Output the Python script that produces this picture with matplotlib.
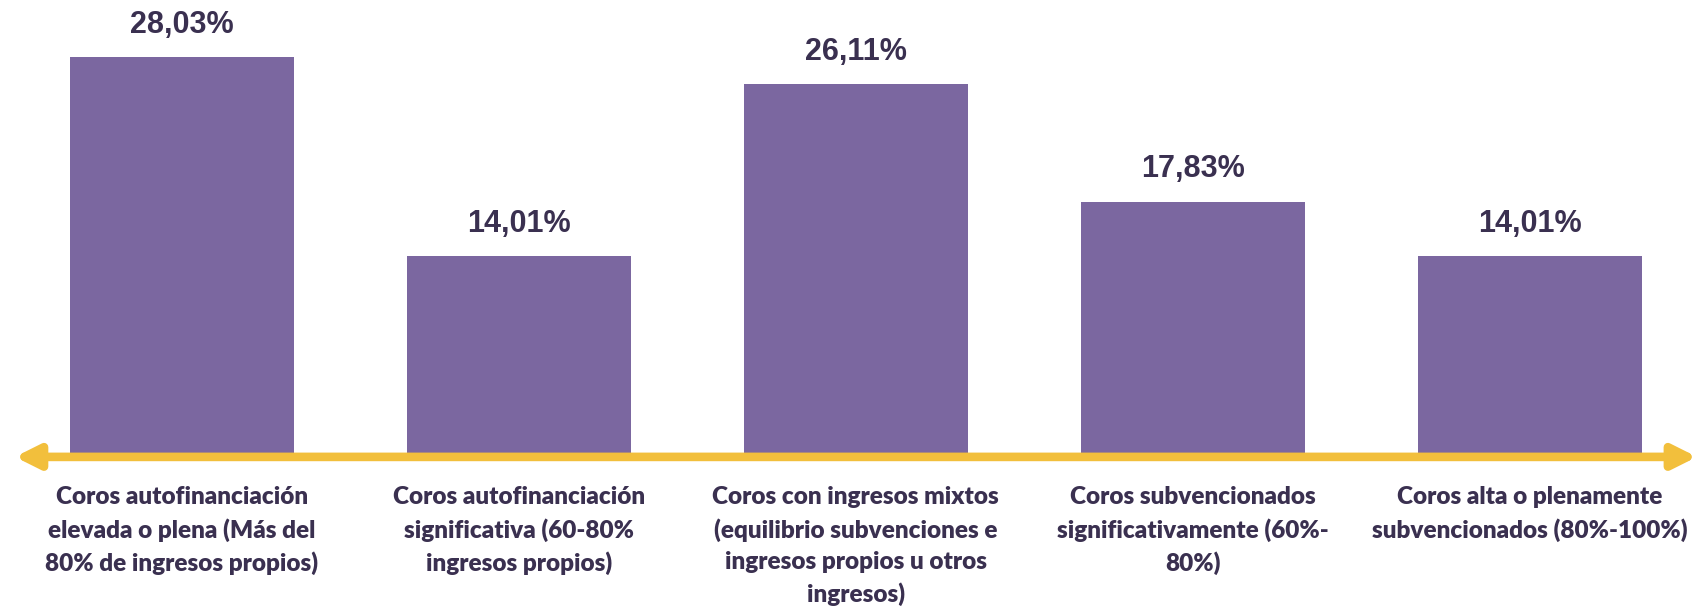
import matplotlib.pyplot as plt

categories = [
    "Coros autofinanciación\nelevada o plena (Más del\n80% de ingresos propios)",
    "Coros autofinanciación\nsignificativa (60-80%\ningresos propios)",
    "Coros con ingresos mixtos\n(equilibrio subvenciones e\ningresos propios u otros\ningresos)",
    "Coros subvencionados\nsignificativamente (60%-\n80%)",
    "Coros alta o plenamente\nsubvencionados (80%-100%)",
]
values = [28.03, 14.01, 26.11, 17.83, 14.01]
value_labels = ["28,03%", "14,01%", "26,11%", "17,83%", "14,01%"]

bar_color = "#7b67a0"
text_color = "#3a3050"
axis_color = "#f2bf3c"

fig = plt.figure(figsize=(16.98, 6.10), dpi=100)
ax = fig.add_axes([0, 0, 1, 1])
ax.set_xlim(-0.54, 4.5)
ax.set_ylim(-10.92, 32.04)
ax.axis("off")

x = range(len(values))
ax.bar(x, values, width=0.665, color=bar_color, zorder=1)

for xi, v, lab in zip(x, values, value_labels):
    ax.annotate(lab, (xi, v), xytext=(0, 12.5), textcoords="offset points",
                ha="center", va="bottom", fontsize=22, fontweight="heavy",
                family="Liberation Sans", color=text_color)

for xi, cat in zip(x, categories):
    ax.text(xi, -2.2, cat, ha="center", va="top", fontsize=17.5,
            fontweight="heavy", family="Lato", color=text_color,
            linespacing=1.5)

# double-headed axis arrow
ax.annotate("", xy=(0.9994, 0.251), xytext=(0.0088, 0.251),
            xycoords="axes fraction", textcoords="axes fraction",
            arrowprops=dict(arrowstyle="<|-|>,head_length=14,head_width=7",
                            mutation_scale=1, color=axis_color, lw=6.2,
                            shrinkA=0, shrinkB=0), zorder=3)

fig.savefig("out.png", dpi=100)
